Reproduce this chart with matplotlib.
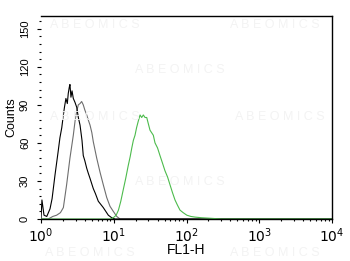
import numpy as np
import matplotlib
matplotlib.use("Agg")
import matplotlib.pyplot as plt
from matplotlib.ticker import MultipleLocator, LogLocator, NullFormatter, FixedLocator

plt.rcParams['font.family'] = ['Liberation Sans', 'DejaVu Sans']

# isotype control (black)
black_x = [1.0, 1.03, 1.1, 1.2, 1.33, 1.42, 1.56, 1.71, 1.82, 1.93, 2.03, 2.1, 2.2,
           2.3, 2.37, 2.45, 2.5, 2.58, 2.67, 2.78, 2.93, 3.1, 3.26, 3.44, 3.66, 3.81,
           4.0, 4.25, 4.47, 4.72, 5.23, 5.6, 6.13, 7.18, 8.42, 9.37, 10.4, 20.0,
           10000.0]
black_y = [0, 15, 3, 2, 8, 16, 35, 52, 64, 72, 82, 88, 95, 91, 99, 104, 106, 96, 101,
           95, 92, 88, 80, 74, 62, 50, 46, 40, 36, 32, 24, 20, 14, 9, 3, 1, 0, 0, 0]

# second control (grey)
grey_x = [1.0, 1.26, 1.45, 1.64, 1.85, 2.03, 2.25, 2.5, 2.78, 2.95, 3.1, 3.26, 3.44,
          3.62, 3.81, 4.0, 4.25, 4.47, 4.72, 5.0, 5.23, 5.83, 6.47, 7.18, 8.0, 8.88,
          9.86, 11.0, 12.2, 20.0, 10000.0]
grey_y = [0, 0, 2, 3, 5, 9, 27, 48, 66, 78, 85, 90, 91, 92.6, 90, 86, 82, 78, 74, 68,
          61, 48, 37, 27, 17, 10, 6, 2, 0, 0, 0]

# stained sample (green)
green_x = [1.0, 9.0, 9.86, 10.8, 11.6, 12.5, 13.5, 14.6, 15.8, 16.8, 17.7, 18.6,
           19.6, 20.6, 21.7, 23.0, 24.2, 25.5, 26.9, 28.4, 29.9, 31.5, 33.2, 35.0,
           36.9, 40.0, 43.2, 46.8, 50.6, 55.0, 59.3, 64.0, 69.5, 75.0, 81.4, 90.0,
           101.0, 115.0, 131.0, 160.0, 224.0, 300.0, 10000.0]
green_y = [0, 0, 1, 3, 7, 14, 23, 32, 42, 49, 56, 62, 66, 72, 77, 82, 80, 82, 80,
           80, 75, 70, 68, 66, 60, 56, 50, 44, 38, 33, 27, 21, 15, 11, 7, 5, 3, 2,
           1.5, 1, 0.5, 0, 0]

fig = plt.figure(figsize=(3.5, 2.61), dpi=100)
ax = fig.add_axes([41 / 350, 1 - 219 / 261, 291 / 350, 203 / 261])

# faint watermark
for (wx, wy) in [(95, 25), (275, 25), (180, 70), (95, 117), (280, 117),
                 (180, 182), (90, 253), (275, 253)]:
    fig.text(wx / 350, 1 - wy / 261, 'A B E O M I C S', color='#f3f3f3',
             fontsize=9, ha='center', va='center', zorder=0)

ax.patch.set_alpha(0)
ax.plot(grey_x, grey_y, color='#6e6e6e', lw=0.8)
ax.plot(black_x, black_y, color='black', lw=0.8)
ax.plot(green_x, green_y, color='#4cbb4c', lw=0.8)

ax.set_xscale('log')
ax.set_xlim(1, 10000)
ax.set_ylim(0, 160)

ax.xaxis.set_major_locator(FixedLocator([1, 10, 100, 1000, 10000]))
ax.xaxis.set_minor_locator(LogLocator(base=10, subs=np.arange(2, 10), numticks=20))
ax.xaxis.set_minor_formatter(NullFormatter())
ax.set_xticklabels([r'$10^{0}$', r'$10^{1}$', r'$10^{2}$', r'$10^{3}$', r'$10^{4}$'],
                   fontsize=10)

ax.yaxis.set_major_locator(MultipleLocator(30))
ax.yaxis.set_minor_locator(MultipleLocator(6))
for lab in ax.get_yticklabels():
    lab.set_rotation(90)
    lab.set_va('center')
    lab.set_fontsize(8)

ax.tick_params(axis='both', which='major', direction='out', length=3, width=0.8, pad=2)
ax.tick_params(axis='both', which='minor', direction='out', length=1.5, width=0.8)
ax.tick_params(axis='y', pad=5)

ax.spines['left'].set_visible(False)
for s in ['top', 'right', 'bottom']:
    ax.spines[s].set_linewidth(1.0)

ax.set_xlabel('FL1-H', fontsize=10, labelpad=-1)
ax.set_ylabel('Counts', fontsize=9, labelpad=2)

fig.savefig('out.png', dpi=100)
